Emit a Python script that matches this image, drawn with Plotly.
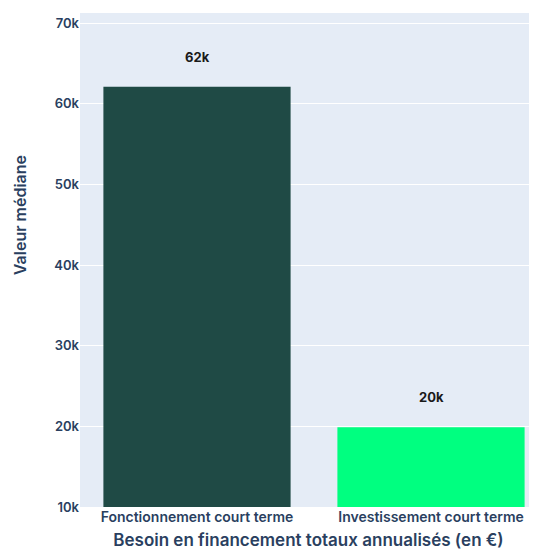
import plotly.graph_objects as go

categories = ["Fonctionnement court terme", "Investissement court terme"]
values = [62100, 19900]
labels = ["62k", "20k"]
colors = ["#1f4a45", "#00ff80"]
ytickvals = [10000, 20000, 30000, 40000, 50000, 60000, 70000]
yticktext = ["10k", "20k", "30k", "40k", "50k", "60k", "70k"]
ytitle = "Valeur médiane"
xtitle = "Besoin en financement totaux annualisés (en €)"

fig = go.Figure()
fig.add_trace(go.Bar(
    x=categories,
    y=values,
    marker=dict(color=colors, line=dict(width=0)),
    hoverinfo="skip",
))

for c, v, t in zip(categories, values, labels):
    fig.add_annotation(
        x=c, y=v, xref="x", yref="y", text=t, showarrow=False,
        yshift=30, yanchor="middle",
        font=dict(family="Inter", size=13, color="#1a1a1a", weight=700),
    )

fig.add_annotation(
    x=-0.131, y=0.591, xref="paper", yref="paper", text=ytitle,
    showarrow=False, textangle=-90, xanchor="center", yanchor="middle",
    font=dict(family="Inter", size=16, weight=600, color="#2a3f5f"),
)

fig.update_layout(
    width=529, height=549,
    margin=dict(l=72, r=0, t=5, b=50),
    paper_bgcolor="white",
    plot_bgcolor="#e5ecf6",
    bargap=0.2,
    showlegend=False,
    font=dict(family="Inter", color="#2a3f5f"),
    xaxis=dict(
        range=[-0.5, 1.453],
        showgrid=False,
        tickfont=dict(size=14, weight=600, color="#2a3f5f"),
        title=dict(text=xtitle,
                   font=dict(size=17, weight=600, color="#2a3f5f"), standoff=10),
        ticks="",
    ),
    yaxis=dict(
        range=[10000, 71240],
        tickvals=ytickvals,
        ticktext=yticktext,
        gridcolor="white",
        gridwidth=1,
        zeroline=False,
        tickfont=dict(size=13, weight=600, color="#2a3f5f"),
        ticks="",
    ),
)

fig.write_html("out.html")
